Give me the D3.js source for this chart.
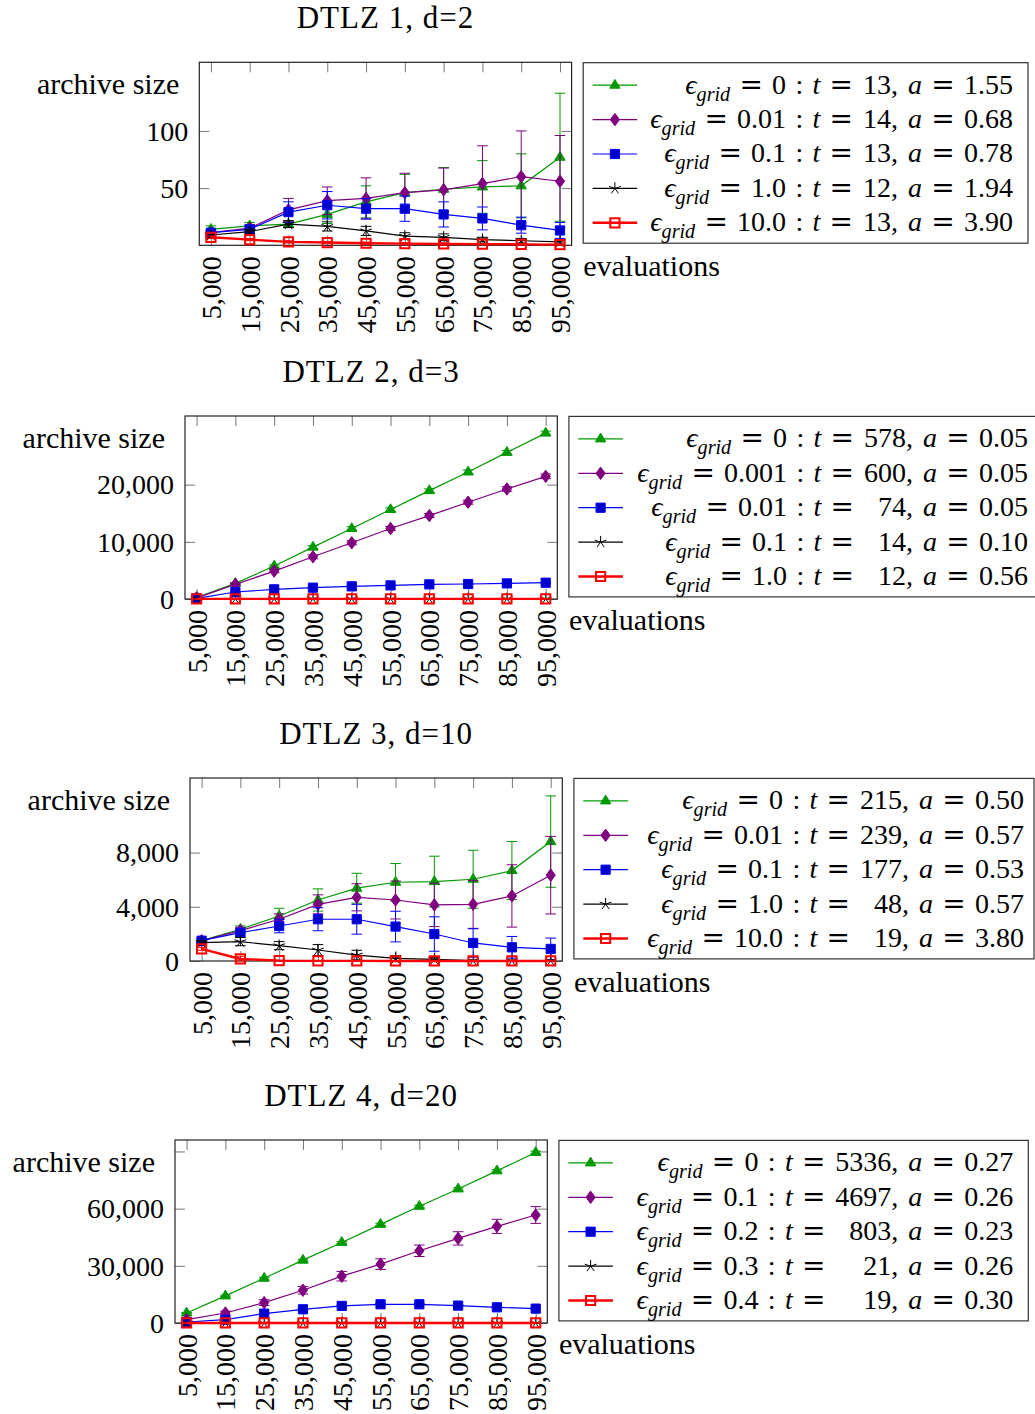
<!DOCTYPE html>
<html>
<head>
<meta charset="utf-8">
<script src="https://cdn.jsdelivr.net/npm/d3@7"></script>
<style>
body { margin: 0; background: #fff; }
text { font-family: "Liberation Serif", "DejaVu Serif", serif; white-space: pre; }
</style>
</head>
<body>
<svg id="chart" width="1035" height="1414"></svg>
<script>
// x values shared by all four plots
var evaluations = [5000, 15000, 25000, 35000, 45000, 55000, 65000, 75000, 85000, 95000];
var xTickLabels = ["5,000", "15,000", "25,000", "35,000", "45,000", "55,000", "65,000", "75,000", "85,000", "95,000"];

// DTLZ 1, d=2  (series order: green, violet, blue, black, red)
var dtlz1Mean = [
    [14, 17, 18.5, 27, 38, 46, 49, 51, 52, 77],
    [11, 15, 31, 39, 41, 46, 48.5, 54, 60, 56],
    [11, 14, 29, 35, 32, 32, 27, 23.5, 17.6, 13],
    [9, 12, 18.5, 16.5, 12.6, 8, 7, 5, 4, 3],
    [7, 5, 3, 2.4, 1.8, 1.5, 1.2, 1, 0.8, 0.6]
];
var dtlz1Err = [
    [3, 3, 3, 8, 14, 16, 19, 23, 28, 56],
    [2, 3, 10, 12, 18, 17, 19, 33, 40, 40],
    [2, 3, 9, 12, 9, 11, 11, 10, 7, 7],
    [2, 2, 3, 4, 4, 3, 3, 2, 2, 1],
    [1, 1, 1, 1, 1, 1, 1, 0.5, 0.5, 0.5]
];
var dtlz1Eps = ["0", "0.01", "0.1", "1.0", "10.0"];
var dtlz1T = ["13", "14", "13", "12", "13"];
var dtlz1A = ["1.55", "0.68", "0.78", "1.94", "3.90"];
var dtlz1YTicks = [50, 100];
var dtlz1YLabels = ["50", "100"];

// DTLZ 2, d=3
var dtlz2Mean = [
    [230, 2730, 5760, 9070, 12330, 15640, 18950, 22210, 25640, 29010],
    [200, 2560, 4880, 7380, 9830, 12330, 14590, 16920, 19240, 21450],
    [100, 1220, 1690, 1980, 2210, 2380, 2560, 2620, 2730, 2850],
    [40, 30, 30, 30, 30, 30, 30, 30, 30, 30],
    [15, 15, 15, 15, 15, 15, 15, 15, 15, 15]
];
var dtlz2Err = [
    [50, 150, 200, 250, 300, 300, 300, 350, 350, 350],
    [50, 150, 300, 350, 350, 350, 350, 350, 400, 400],
    [20, 50, 50, 60, 60, 60, 60, 60, 60, 60],
    [5, 5, 5, 5, 5, 5, 5, 5, 5, 5],
    [2, 2, 2, 2, 2, 2, 2, 2, 2, 2]
];
var dtlz2Eps = ["0", "0.001", "0.01", "0.1", "1.0"];
var dtlz2T = ["578", "600", "74", "14", "12"];
var dtlz2A = ["0.05", "0.05", "0.05", "0.10", "0.56"];
var dtlz2YTicks = [0, 10000, 20000];
var dtlz2YLabels = ["0", "10,000", "20,000"];

// DTLZ 3, d=10
var dtlz3Mean = [
    [1500, 2340, 3320, 4500, 5370, 5810, 5860, 6030, 6670, 8810],
    [1500, 2240, 3080, 4180, 4700, 4500, 4140, 4180, 4800, 6330],
    [1500, 2090, 2580, 3080, 3080, 2540, 1990, 1330, 1010, 890],
    [1350, 1430, 1130, 810, 440, 200, 120, 25, 25, 25],
    [890, 150, 25, 10, 10, 5, 5, 5, 5, 5]
];
var dtlz3Err = [
    [150, 250, 570, 820, 1100, 1380, 1870, 2140, 2140, 3370],
    [150, 250, 400, 700, 1000, 1400, 1600, 1770, 2300, 2860],
    [150, 250, 500, 850, 1100, 1130, 1270, 1050, 800, 800],
    [150, 300, 300, 400, 350, 200, 150, 50, 30, 30],
    [100, 200, 30, 10, 10, 5, 5, 5, 5, 5]
];
var dtlz3Eps = ["0", "0.01", "0.1", "1.0", "10.0"];
var dtlz3T = ["215", "239", "177", "48", "19"];
var dtlz3A = ["0.50", "0.57", "0.53", "0.57", "3.80"];
var dtlz3YTicks = [0, 4000, 8000];
var dtlz3YLabels = ["0", "4,000", "8,000"];

// DTLZ 4, d=20
var dtlz4Mean = [
    [5260, 14210, 23500, 32980, 42270, 51740, 61210, 70330, 79810, 89450],
    [1750, 5260, 10700, 17190, 24560, 30870, 37890, 44380, 50690, 56650],
    [530, 1750, 4910, 7190, 8950, 9820, 9820, 9120, 8240, 7540],
    [40, 30, 30, 30, 30, 30, 30, 30, 30, 30],
    [20, 20, 20, 20, 20, 20, 20, 20, 20, 20]
];
var dtlz4Err = [
    [300, 400, 500, 500, 500, 600, 600, 600, 600, 700],
    [500, 1000, 1500, 2000, 2500, 2800, 3000, 3500, 3700, 4400],
    [100, 200, 300, 400, 400, 400, 400, 400, 400, 400],
    [5, 5, 5, 5, 5, 5, 5, 5, 5, 5],
    [2, 2, 2, 2, 2, 2, 2, 2, 2, 2]
];
var dtlz4Eps = ["0", "0.1", "0.2", "0.3", "0.4"];
var dtlz4T = ["5336", "4697", "803", "21", "19"];
var dtlz4A = ["0.27", "0.26", "0.23", "0.26", "0.30"];
var dtlz4YTicks = [0, 30000, 60000, 90000];
var dtlz4YLabels = ["0", "30,000", "60,000", ""];

var seriesStyle = [
    { color: "#009900", fill: "#009900", mark: "triangle", width: 1.2 },
    { color: "#800080", fill: "#800080", mark: "diamond", width: 1.2 },
    { color: "#0000ff", fill: "#0000cc", mark: "square", width: 1.2 },
    { color: "#000000", fill: "none", mark: "star", width: 1.2 },
    { color: "#ff0000", fill: "none", mark: "opensquare", width: 2.4 }
];

var panels = [
    { title: "DTLZ 1, d=2", mean: dtlz1Mean, err: dtlz1Err, eps: dtlz1Eps, t: dtlz1T, a: dtlz1A,
      yTicks: dtlz1YTicks, yLabels: dtlz1YLabels, yMax: 160, left: 199.3, top: 62.3, legRight: 1028, textEnd: 1013 },
    { title: "DTLZ 2, d=3", mean: dtlz2Mean, err: dtlz2Err, eps: dtlz2Eps, t: dtlz2T, a: dtlz2A,
      yTicks: dtlz2YTicks, yLabels: dtlz2YLabels, yMax: 32000, left: 185, top: 416, legRight: 1036, textEnd: 1028 },
    { title: "DTLZ 3, d=10", mean: dtlz3Mean, err: dtlz3Err, eps: dtlz3Eps, t: dtlz3T, a: dtlz3A,
      yTicks: dtlz3YTicks, yLabels: dtlz3YLabels, yMax: 13500, left: 190, top: 778, legRight: 1034, textEnd: 1024 },
    { title: "DTLZ 4, d=20", mean: dtlz4Mean, err: dtlz4Err, eps: dtlz4Eps, t: dtlz4T, a: dtlz4A,
      yTicks: dtlz4YTicks, yLabels: dtlz4YLabels, yMax: 96000, left: 175, top: 1140, legRight: 1028.3, textEnd: 1013.3 }
];

var FS = 28;
var W = 372.3, H = 183, PAD = 11.6;
var FONT = "Liberation Serif, DejaVu Serif, serif";
var SP = "\u2004";   // thick math space around relations

var svg = d3.select("#chart");

function markPath(mark) {
    var p = d3.path();
    if (mark == "triangle") {
        p.moveTo(0, -5.8); p.lineTo(5.2, 3); p.lineTo(-5.2, 3); p.closePath();
    } else if (mark == "diamond") {
        p.moveTo(0, -6.2); p.lineTo(4.6, 0); p.lineTo(0, 6.2); p.lineTo(-4.6, 0); p.closePath();
    } else if (mark == "square" || mark == "opensquare") {
        p.rect(-4.6, -4.6, 9.2, 9.2);
    } else if (mark == "star") {
        for (var k = 0; k < 5; k++) {
            var ang = -Math.PI / 2 + k * 2 * Math.PI / 5;
            p.moveTo(0, 0);
            p.lineTo(6.2 * Math.cos(ang), 6.2 * Math.sin(ang));
        }
    }
    return p.toString();
}

function drawMarks(sel, st) {
    sel.attr("d", markPath(st.mark))
        .attr("fill", st.fill)
        .attr("stroke", st.color)
        .attr("stroke-width", st.mark == "opensquare" ? 2 : 1);
}

// "=" with math spacing, drawn in DejaVu which has a wider equals sign
function eq(t, trailing, dy) {
    t.append("tspan").attr("font-family", "DejaVu Serif").attr("dy", dy || null)
        .text(SP + "=" + (trailing ? SP : ""));
}

function drawPanel(p) {
    var g = svg.append("g").attr("transform", "translate(" + p.left + "," + p.top + ")");

    var x = d3.scaleLinear().domain([5000, 95000]).range([PAD, W - PAD]);
    var y = d3.scaleLinear().domain([0, p.yMax]).range([H, 0]).clamp(true);

    g.append("text")
        .attr("x", W / 2).attr("y", -34)
        .attr("text-anchor", "middle")
        .attr("font-size", 31)
        .attr("letter-spacing", 1)
        .text(p.title);

    // axes: ticks point inward on all four sides
    var axL = g.append("g")
        .call(d3.axisLeft(y).tickValues(p.yTicks).tickSize(-10).tickPadding(11)
            .tickFormat(function (d, i) { return p.yLabels[i]; }));
    var axR = g.append("g").attr("transform", "translate(" + W + ",0)")
        .call(d3.axisRight(y).tickValues(p.yTicks).tickSize(-10).tickFormat(""));
    var axB = g.append("g").attr("transform", "translate(0," + H + ")")
        .call(d3.axisBottom(x).tickValues(evaluations).tickSize(-10)
            .tickFormat(function (d, i) { return xTickLabels[i]; }));
    var axT = g.append("g")
        .call(d3.axisTop(x).tickValues(evaluations).tickSize(-10).tickFormat(""));

    [axL, axR, axB, axT].forEach(function (ax) {
        ax.attr("font-size", FS).attr("font-family", FONT);
        ax.select(".domain").remove();
        ax.selectAll(".tick line").attr("stroke", "#777").attr("stroke-width", 1);
        ax.selectAll(".tick text").attr("fill", "#000");
    });
    axL.selectAll(".tick text").attr("dy", "0.33em");
    axB.selectAll(".tick text")
        .attr("y", 0).attr("x", -11).attr("dy", "0.34em")
        .attr("transform", "rotate(-90)")
        .style("text-anchor", "end");

    g.append("rect")
        .attr("width", W).attr("height", H)
        .attr("fill", "none").attr("stroke", "#222").attr("stroke-width", 1.2);

    g.append("text")
        .attr("x", -20).attr("y", 32)
        .attr("text-anchor", "end").attr("font-size", 30)
        .text("archive size");

    // series
    p.mean.forEach(function (vals, si) {
        var st = seriesStyle[si];
        var pts = evaluations.map(function (e, i) {
            return { x: e, y: vals[i], err: p.err[si][i] };
        });

        g.append("path").datum(pts)
            .attr("d", d3.line().x(function (d) { return x(d.x); }).y(function (d) { return y(d.y); }))
            .attr("fill", "none")
            .attr("stroke", st.color)
            .attr("stroke-width", st.width);

        var eb = g.append("g").attr("stroke", st.color).attr("stroke-width", 1);
        eb.selectAll("line.v").data(pts).join("line").attr("class", "v")
            .attr("x1", function (d) { return x(d.x); }).attr("x2", function (d) { return x(d.x); })
            .attr("y1", function (d) { return y(d.y - d.err); })
            .attr("y2", function (d) { return y(d.y + d.err); });
        eb.selectAll("line.hi").data(pts).join("line").attr("class", "hi")
            .attr("x1", function (d) { return x(d.x) - 5.3; }).attr("x2", function (d) { return x(d.x) + 5.3; })
            .attr("y1", function (d) { return y(d.y + d.err); })
            .attr("y2", function (d) { return y(d.y + d.err); });
        eb.selectAll("line.lo").data(pts).join("line").attr("class", "lo")
            .attr("x1", function (d) { return x(d.x) - 5.3; }).attr("x2", function (d) { return x(d.x) + 5.3; })
            .attr("y1", function (d) { return y(d.y - d.err); })
            .attr("y2", function (d) { return y(d.y - d.err); });

        g.append("g").selectAll("path").data(pts).join("path")
            .attr("transform", function (d) { return "translate(" + x(d.x) + "," + y(d.y) + ")"; })
            .call(drawMarks, st);
    });

    // legend
    var legLeft = p.left + W + 11.6;
    var lg = svg.append("g").attr("transform", "translate(" + legLeft + "," + (p.top + 0.4) + ")");
    lg.append("rect")
        .attr("width", p.legRight - legLeft).attr("height", 180.5)
        .attr("fill", "#fff").attr("stroke", "#333").attr("stroke-width", 1.2);

    g.append("text")
        .attr("x", W + 11.6).attr("y", H + 31)
        .attr("font-size", 30)
        .text("evaluations");

    var textEnd = p.textEnd - legLeft;
    var gap = 10;
    var rowY = function (i) { return 22.5 + i * 34.4; };

    var cTexts = p.a.map(function (a, i) {
        var t = lg.append("text").attr("x", textEnd).attr("y", rowY(i) + 8.5)
            .attr("text-anchor", "end").attr("font-size", FS);
        t.append("tspan").attr("font-style", "italic").text("a");
        eq(t, true);
        t.append("tspan").text(a);
        return t;
    });
    var maxC = d3.max(cTexts, function (t) { return t.node().getComputedTextLength(); });
    var xB = textEnd - maxC - gap;

    var nTexts = p.t.map(function (tv, i) {
        return lg.append("text").attr("x", xB).attr("y", rowY(i) + 8.5)
            .attr("text-anchor", "end").attr("font-size", FS)
            .text(tv + ",");
    });
    var maxN = d3.max(nTexts, function (t) { return t.node().getComputedTextLength(); });
    var xA = xB - maxN - gap;

    p.eps.forEach(function (eps, i) {
        var t = lg.append("text").attr("x", xA).attr("y", rowY(i) + 8.5)
            .attr("text-anchor", "end").attr("font-size", FS);
        t.append("tspan").attr("font-style", "italic").text("\u03f5");
        t.append("tspan").attr("font-style", "italic").attr("font-size", FS * 0.72).attr("dy", 7).text("grid");
        eq(t, true, -7);
        t.append("tspan").text(eps + SP + ":" + SP);
        t.append("tspan").attr("font-style", "italic").text("t");
        eq(t, false);

        var st = seriesStyle[i];
        lg.append("line")
            .attr("x1", 9.4).attr("x2", 54)
            .attr("y1", rowY(i)).attr("y2", rowY(i))
            .attr("stroke", st.color).attr("stroke-width", st.width);
        lg.append("path")
            .attr("transform", "translate(31.7," + rowY(i) + ")")
            .call(drawMarks, st);
    });
}

panels.forEach(drawPanel);
</script>
</body>
</html>
